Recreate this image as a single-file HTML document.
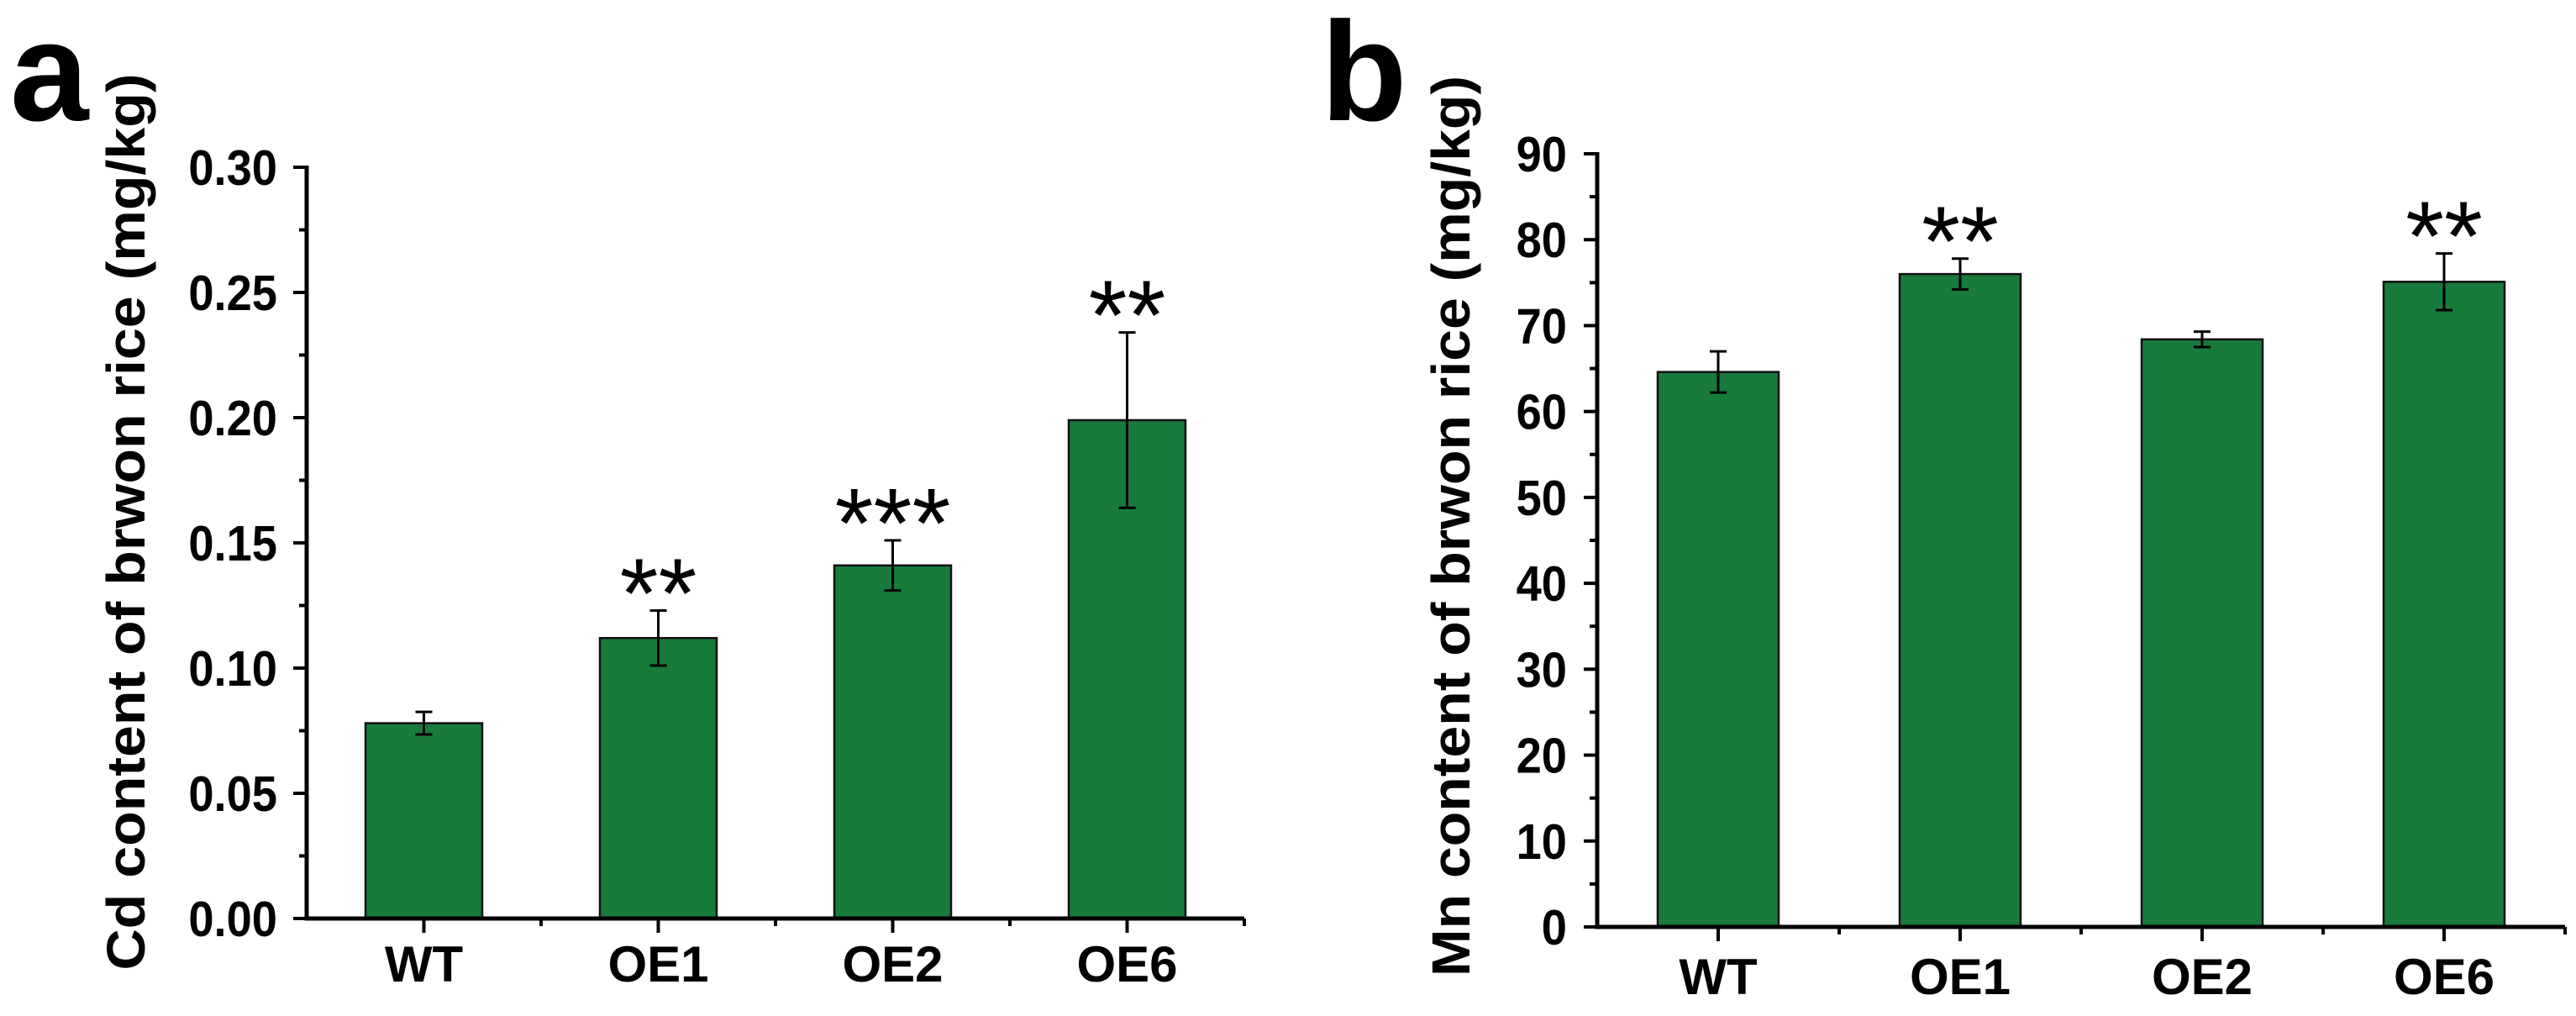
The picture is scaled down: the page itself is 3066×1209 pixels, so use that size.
<!DOCTYPE html>
<html><head><meta charset="utf-8"><style>
html,body{margin:0;padding:0;background:#fff;overflow:hidden;}
svg{display:block;}
svg text{font-family:"Liberation Sans",Arial,sans-serif;font-weight:bold;fill:#000;}
</style></head><body>
<svg id="fig" width="3066" height="1209" xmlns="http://www.w3.org/2000/svg"></svg>
<script>
const categories = ["WT","OE1","OE2","OE6"];
const cdValues = [0.078, 0.112, 0.141, 0.199];
const cdErrors = [0.0045, 0.011, 0.010, 0.035];
const cdStars = ["", "**", "***", "**"];
const cdTicks = [0, 0.05, 0.10, 0.15, 0.20, 0.25, 0.30];
const cdTickLabels = ["0.00","0.05","0.10","0.15","0.20","0.25","0.30"];
const mnValues = [64.6, 76.0, 68.4, 75.1];
const mnErrors = [2.4, 1.8, 0.9, 3.3];
const mnStars = ["", "**", "", "**"];
const mnTicks = [0,10,20,30,40,50,60,70,80,90];
const mnTickLabels = ["0","10","20","30","40","50","60","70","80","90"];

const NS = "http://www.w3.org/2000/svg";
const svg = document.getElementById("fig");
function mk(tag, attrs, parent){
  const e = document.createElementNS(NS, tag);
  for (const k in attrs) e.setAttribute(k, attrs[k]);
  (parent||svg).appendChild(e);
  return e;
}

function panel(cfg){
  const g = mk("g", {});
  
  
  const {x0, y0, yTop, xEnd, yMax, band, barW} = cfg;
  const ys = v => y0 - (v / yMax) * (y0 - yTop);
  const xc = i => x0 + band/2 + band*i;

  cfg.values.forEach((v,i)=>{
    const r = mk("rect", {x: xc(i)-barW/2, y: ys(v), width: barW, height: y0-ys(v), fill:"#187a3b", stroke:"#111", "stroke-width":2.5}, g);
    
    
    const hi = ys(v+cfg.errors[i]), lo = ys(v-cfg.errors[i]);
    const eb = mk("path", {d:`M${xc(i)} ${hi}V${lo}M${xc(i)-10} ${hi}H${xc(i)+10}M${xc(i)-10} ${lo}H${xc(i)+10}`, stroke:"#000","stroke-width":3,fill:"none"}, g);
    
    
    if (cfg.stars[i]) {
      const fs = 118;
      const t = mk("text", {x: xc(i), y: hi - 6 + 0.22*fs, "text-anchor":"middle","font-size":fs, style:"font-weight:normal"}, g);
      t.textContent = cfg.stars[i];
      
      
    }
  });

  const ax = mk("path", {d:`M${x0} ${yTop-2}V${y0}H${xEnd}`, stroke:"#000","stroke-width":5,fill:"none"}, g);
  
  

  cfg.ticks.forEach((v,i)=>{
    const y = ys(v);
    mk("line", {x1:x0-16, x2:x0, y1:y, y2:y, stroke:"#000","stroke-width":4}, g);
    const t = mk("text", {transform:`translate(${cfg.labelRight},${y+21}) scale(0.92,1)`, "text-anchor":"end","font-size":59}, g);
    t.textContent = cfg.tickLabels[i];
    
    
    if (i < cfg.ticks.length-1) {
      const ym = ys((v + cfg.ticks[i+1])/2);
      mk("line", {x1:x0-9, x2:x0, y1:ym, y2:ym, stroke:"#000","stroke-width":4}, g);
    }
  });
  categories.forEach((c,i)=>{
    mk("line", {x1:xc(i), x2:xc(i), y1:y0, y2:y0+17, stroke:"#000","stroke-width":4}, g);
    mk("line", {x1:x0+band*(i+1), x2:x0+band*(i+1), y1:y0, y2:y0+9, stroke:"#000","stroke-width":4}, g);
    const t = mk("text", {transform:`translate(${xc(i)},${cfg.xLabelY})`, "text-anchor":"middle","font-size":60}, g);
    t.textContent = c;
    
    
  });
  const tt = mk("text", {transform:`translate(${cfg.titleX},${cfg.titleY}) rotate(-90)`, "text-anchor":"middle","font-size":64, textLength: cfg.titleLen, lengthAdjust:"spacingAndGlyphs"}, g);
  tt.textContent = cfg.title;
  
  
  const pl = mk("text", {x: cfg.letterX, y: 143, "font-size":168}, g);
  pl.textContent = cfg.letter;
  
  
}

panel({name:"chart-cd", x0:365, y0:1093, yTop:199, xEnd:1481, yMax:0.30, band:279, barW:139,
  values:cdValues, errors:cdErrors, stars:cdStars, ticks:cdTicks, tickLabels:cdTickLabels,
  labelRight:330, xLabelY:1168, titleX:172, titleY:621, titleLen:1067,
  title:"Cd content of brwon rice (mg/kg)", letter:"a", letterX:12});
panel({name:"chart-mn", x0:1901, y0:1103, yTop:183, xEnd:3053, yMax:90, band:288, barW:144,
  values:mnValues, errors:mnErrors, stars:mnStars, ticks:mnTicks, tickLabels:mnTickLabels,
  labelRight:1865, xLabelY:1183, titleX:1749, titleY:626, titleLen:1072,
  title:"Mn content of brwon rice (mg/kg)", letter:"b", letterX:1572});
</script>
</body></html>
